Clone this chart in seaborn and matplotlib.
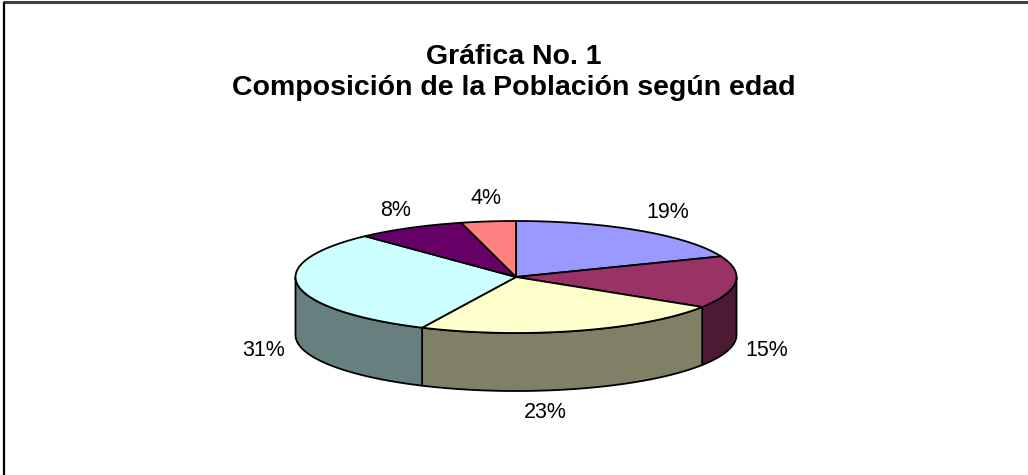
import numpy as np
import matplotlib
matplotlib.use("Agg")
import matplotlib.pyplot as plt
from matplotlib.patches import Polygon
import seaborn as sns

# ---- data ----
categories = ["Grupo 1", "Grupo 2", "Grupo 3", "Grupo 4", "Grupo 5", "Grupo 6"]
values = [19, 15, 23, 31, 8, 4]
labels = ["19%", "15%", "23%", "31%", "8%", "4%"]
top_colors = ["#9999FF", "#993366", "#FFFFCC", "#CCFFFF", "#660066", "#FF8080"]
title_lines = ["Gráfica No. 1", "Composición de la Población según edad"]

sns.set_theme(style="white")
plt.rcParams['font.family'] = ['Liberation Sans', 'DejaVu Sans']

W, H = 1028, 475
fig = plt.figure(figsize=(W / 100, H / 100), dpi=100)
ax = fig.add_axes([0, 0, 1, 1])
ax.set_xlim(0, W)
ax.set_ylim(H, 0)
ax.axis("off")

# border lines (top and left)
ax.plot([3, W], [2, 2], color="#404040", lw=2.2, solid_capstyle="butt")
ax.plot([3.5, 3.5], [2, H], color="black", lw=1.6, solid_capstyle="butt")

# pie geometry
cx, cy = 516, 277
rx, ry = 220.5, 56
depth = 58

def darker(c, f=0.5):
    r, g, b = matplotlib.colors.to_rgb(c)
    return (r * f, g * f, b * f)

fracs = np.array(values, dtype=float) / np.sum(values)
starts = 90 - 360 * np.concatenate([[0], np.cumsum(fracs)[:-1]])
ends = starts - 360 * fracs

def pt(theta_deg, dy=0.0):
    t = np.radians(theta_deg)
    return cx + rx * np.cos(t), cy - ry * np.sin(t) + dy

# sides (front half only)
for s, e, col in zip(starts, ends, top_colors):
    for k in range(-2, 2):
        lo, hi = -180 + 360 * k, 0 + 360 * k
        a, b = max(e, lo), min(s, hi)
        if b - a > 1e-6:
            ts = np.linspace(a, b, 80)
            topp = [pt(t) for t in ts]
            botp = [pt(t, depth) for t in ts[::-1]]
            poly = Polygon(topp + botp, closed=True, facecolor=darker(col),
                           edgecolor="black", lw=1.3, joinstyle="round")
            ax.add_patch(poly)

# tops
for s, e, col in zip(starts, ends, top_colors):
    ts = np.linspace(s, e, 120)
    pts = [(cx, cy)] + [pt(t) for t in ts]
    ax.add_patch(Polygon(pts, closed=True, facecolor=col, edgecolor="black",
                         lw=1.3, joinstyle="round"))

# labels
label_pos = [(668, 212), (767, 350), (545, 412), (264, 350), (396, 211), (486, 199)]
for (x, y), lab in zip(label_pos, labels):
    ax.text(x, y, lab, ha="center", va="center", fontsize=15.5, color="black")

ax.text(514, 57, title_lines[0], ha="center", va="center", fontsize=20.5,
        fontweight="bold", color="black")
ax.text(514, 88, title_lines[1], ha="center", va="center", fontsize=20.5,
        fontweight="bold", color="black")

fig.savefig("out.png", dpi=100, facecolor="white")
